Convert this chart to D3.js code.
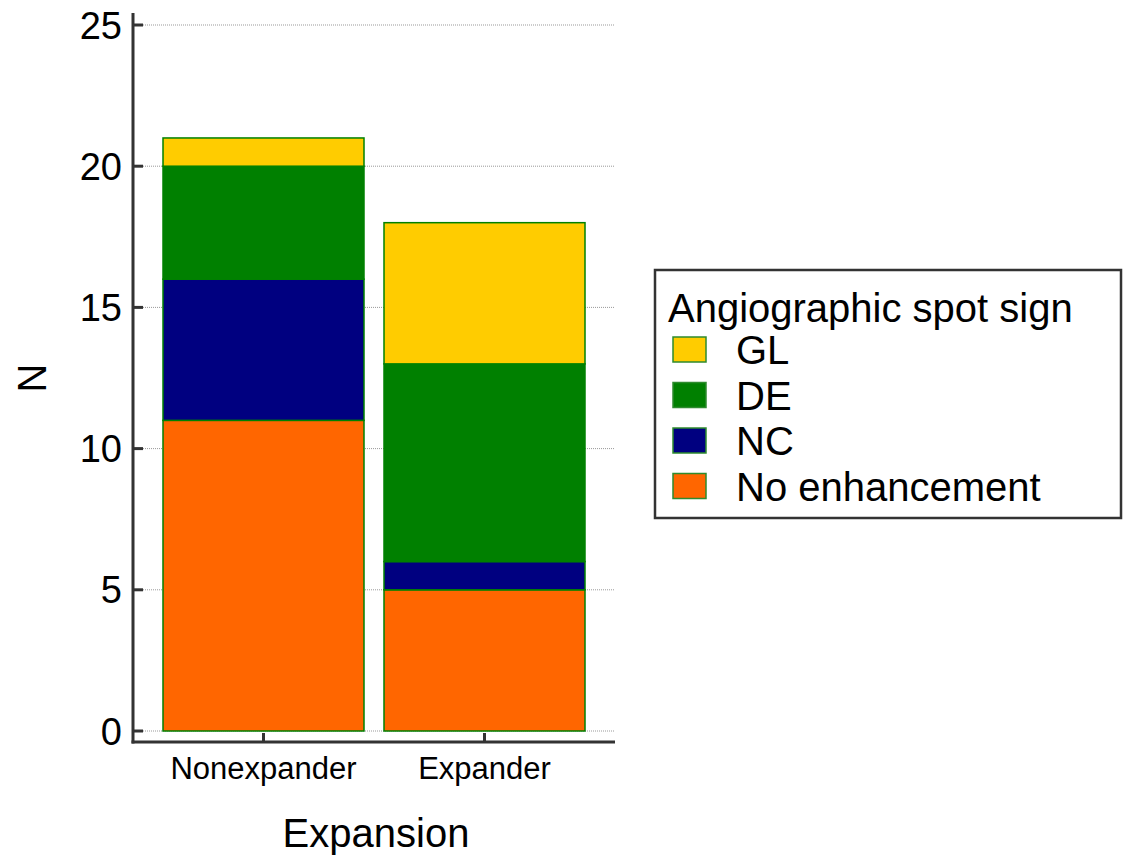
<!DOCTYPE html>
<html>
<head>
<meta charset="utf-8">
<script src="https://cdn.jsdelivr.net/npm/d3@7"></script>
<style>
  body { margin: 0; background: #fff; }
  svg { font-family: "Liberation Sans", Arial, sans-serif; }
</style>
</head>
<body>
<svg id="chart" width="1125" height="858"></svg>
<script>
// data
var groups = ["Nonexpander", "Expander"];
var seriesNames = ["No enhancement", "NC", "DE", "GL"]; // stacked bottom to top
var noEnhancement = [11, 5];
var nc = [5, 1];
var de = [4, 7];
var gl = [1, 5];
var yTicks = [0, 5, 10, 15, 20, 25];
var colors = {"No enhancement": "#ff6600", "NC": "#000080", "DE": "#008000", "GL": "#ffcc00"};

var table = groups.map(function(g, i) {
    return {group: g, "No enhancement": noEnhancement[i], "NC": nc[i], "DE": de[i], "GL": gl[i]};
});

var svg = d3.select("#chart");
var axisColor = "#333";

// plot extents in pixels
var plotLeft = 133, plotRight = 615, plotTop = 25, zeroY = 731, axisY = 742;

var x = d3.scaleBand().domain(groups).range([plotLeft, plotRight])
    .paddingInner(20 / 221).paddingOuter(30 / 221);
var y = d3.scaleLinear().domain([0, 25]).range([zeroY, plotTop]);

// dotted gridlines
svg.append("g").selectAll("line")
    .data(yTicks)
    .enter().append("line")
    .attr("x1", plotLeft + 10).attr("x2", plotRight)
    .attr("y1", function(d) { return y(d); })
    .attr("y2", function(d) { return y(d); })
    .attr("stroke", "#999")
    .attr("stroke-width", 1)
    .attr("stroke-dasharray", "1,1");

// stacked bars
var stack = d3.stack().keys(seriesNames);
var layers = stack(table);

svg.append("g").selectAll("g")
    .data(layers)
    .enter().append("g")
    .attr("fill", function(d) { return colors[d.key]; })
    .selectAll("rect")
    .data(function(d) { return d; })
    .enter().append("rect")
    .attr("x", function(d) { return x(d.data.group); })
    .attr("width", x.bandwidth())
    .attr("y", function(d) { return y(d[1]); })
    .attr("height", function(d) { return y(d[0]) - y(d[1]); })
    .attr("stroke", "#008000")
    .attr("stroke-width", 1.5);

// y axis
var yAxis = svg.append("g");
yAxis.append("line")
    .attr("x1", plotLeft).attr("x2", plotLeft)
    .attr("y1", 13).attr("y2", axisY + 1.5)
    .attr("stroke", axisColor).attr("stroke-width", 3);
yAxis.selectAll(".tick")
    .data(yTicks)
    .enter().append("line")
    .attr("x1", plotLeft).attr("x2", plotLeft + 10)
    .attr("y1", function(d) { return y(d); })
    .attr("y2", function(d) { return y(d); })
    .attr("stroke", axisColor).attr("stroke-width", 3);
yAxis.selectAll("text")
    .data(yTicks)
    .enter().append("text")
    .attr("x", 122)
    .attr("y", function(d) { return y(d); })
    .attr("dy", "0.36em")
    .attr("text-anchor", "end")
    .attr("font-size", 38)
    .text(function(d) { return d; });

// x axis
var xAxis = svg.append("g");
xAxis.append("line")
    .attr("x1", plotLeft - 1.5).attr("x2", plotRight)
    .attr("y1", axisY).attr("y2", axisY)
    .attr("stroke", axisColor).attr("stroke-width", 3);
xAxis.selectAll(".tick")
    .data(groups)
    .enter().append("line")
    .attr("x1", function(d) { return x(d) + x.bandwidth() / 2; })
    .attr("x2", function(d) { return x(d) + x.bandwidth() / 2; })
    .attr("y1", axisY).attr("y2", axisY - 9)
    .attr("stroke", axisColor).attr("stroke-width", 3);
xAxis.selectAll("text")
    .data(groups)
    .enter().append("text")
    .attr("x", function(d) { return x(d) + x.bandwidth() / 2; })
    .attr("y", 779)
    .attr("text-anchor", "middle")
    .attr("font-size", 31)
    .text(function(d) { return d; });

// axis titles
svg.append("text")
    .attr("x", (plotLeft + plotRight) / 2 + 2)
    .attr("y", 847)
    .attr("text-anchor", "middle")
    .attr("font-size", 40)
    .text("Expansion");
svg.append("text")
    .attr("transform", "translate(46,378) rotate(-90)")
    .attr("text-anchor", "middle")
    .attr("font-size", 40)
    .text("N");

// legend
var legend = svg.append("g").attr("transform", "translate(655,270)");
legend.append("rect")
    .attr("width", 466).attr("height", 248)
    .attr("fill", "#fff")
    .attr("stroke", axisColor).attr("stroke-width", 2.5);
legend.append("text")
    .attr("x", 13).attr("y", 52)
    .attr("font-size", 40)
    .text("Angiographic spot sign");
var legendOrder = seriesNames.slice().reverse();
var items = legend.selectAll(".legendItem")
    .data(legendOrder)
    .enter().append("g")
    .attr("class", "legendItem")
    .attr("transform", function(d, i) { return "translate(0," + (80 + i * 45.5) + ")"; });
items.append("rect")
    .attr("x", 18).attr("y", -13)
    .attr("width", 33).attr("height", 25)
    .attr("fill", function(d) { return colors[d]; })
    .attr("stroke", "#2e8b2e").attr("stroke-width", 1.5);
items.append("text")
    .attr("x", 81).attr("y", 0)
    .attr("dy", "0.36em")
    .attr("font-size", 40)
    .text(function(d) { return d; });
</script>
</body>
</html>
